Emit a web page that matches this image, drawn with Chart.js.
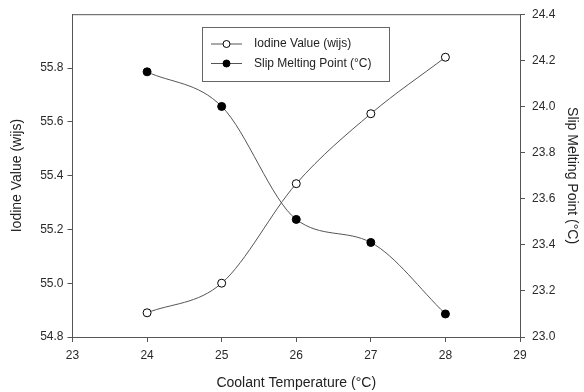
<!DOCTYPE html>
<html lang="en">
<head>
  <meta charset="UTF-8">
  <title>Coolant Temperature</title>
  <script src="https://cdn.jsdelivr.net/npm/chart.js"></script>
  <style>
    html, body { margin: 0; padding: 0; background: #fff; }
    #wrap { width: 584px; height: 392px; }
  </style>
</head>
<body>
  <div id="wrap"><canvas id="myChart" width="584" height="392"></canvas></div>
  <script>
    // data
    const temps = [24, 25, 26, 27, 28];
    const iodineValue = [54.89, 55.00, 55.37, 55.63, 55.84];
    const slipMeltingPoint = [24.15, 24.00, 23.51, 23.41, 23.10];
    const seriesNames = ['Iodine Value (wijs)', 'Slip Melting Point (\u00B0C)'];

    const FONT = 'Arial, "Liberation Sans", sans-serif';
    const axisColor = '#555';
    const textColor = '#2a2a2a';

    // draws the top frame line and the boxed legend inside the plot
    const framePlugin = {
      id: 'frame',
      afterDraw(chart) {
        const ctx = chart.ctx;
        const a = chart.chartArea;
        ctx.save();
        ctx.strokeStyle = axisColor;
        ctx.lineWidth = 1;
        ctx.beginPath();
        ctx.moveTo(a.left, a.top + 0.5);
        ctx.lineTo(a.right, a.top + 0.5);
        ctx.stroke();

        // legend box
        ctx.strokeStyle = '#666';
        ctx.strokeRect(202.5, 27.5, 187, 54);
        ctx.font = '12px ' + FONT;
        ctx.textBaseline = 'middle';
        chart.data.datasets.forEach((ds, i) => {
          const y = 44 + i * 19.5;
          ctx.strokeStyle = ds.borderColor;
          ctx.beginPath();
          ctx.moveTo(211, y);
          ctx.lineTo(242, y);
          ctx.stroke();
          ctx.beginPath();
          ctx.arc(226.5, y, 3.5, 0, Math.PI * 2);
          ctx.fillStyle = ds.pointBackgroundColor;
          ctx.fill();
          ctx.strokeStyle = ds.pointBorderColor;
          ctx.stroke();
          ctx.fillStyle = '#222';
          ctx.fillText(ds.label, 254, y);
        });
        ctx.restore();
      }
    };

    const ctx = document.getElementById('myChart').getContext('2d');
    new Chart(ctx, {
      type: 'line',
      data: {
        datasets: [{
          label: seriesNames[0],
          data: temps.map((t, i) => ({ x: t, y: iodineValue[i] })),
          yAxisID: 'y',
          borderColor: '#555',
          borderWidth: 1,
          pointBackgroundColor: '#fff',
          pointBorderColor: '#000',
          pointBorderWidth: 1,
          pointRadius: 4,
          cubicInterpolationMode: 'monotone'
        }, {
          label: seriesNames[1],
          data: temps.map((t, i) => ({ x: t, y: slipMeltingPoint[i] })),
          yAxisID: 'y2',
          borderColor: '#555',
          borderWidth: 1,
          pointBackgroundColor: '#000',
          pointBorderColor: '#000',
          pointBorderWidth: 1,
          pointRadius: 4,
          cubicInterpolationMode: 'monotone'
        }]
      },
      options: {
        responsive: false,
        animation: false,
        layout: { padding: { top: 14, left: 0, right: 0, bottom: 0 } },
        plugins: {
          legend: { display: false },
          tooltip: { enabled: false }
        },
        scales: {
          x: {
            type: 'linear',
            min: 23,
            max: 29,
            ticks: { stepSize: 1, color: textColor, padding: 6, font: { family: FONT, size: 12 } },
            grid: { drawOnChartArea: false, tickLength: 5, color: axisColor },
            border: { color: axisColor },
            title: {
              display: true,
              text: 'Coolant Temperature (\u00B0C)',
              color: '#222',
              font: { family: FONT, size: 14 },
              padding: { top: 0, bottom: 0.5 }
            },
            afterFit: s => { s.height = 55; }
          },
          y: {
            position: 'left',
            min: 54.8,
            max: 56.0,
            ticks: {
              stepSize: 0.2, color: textColor, padding: 4,
              font: { family: FONT, size: 12 },
              callback: v => v.toFixed(1)
            },
            afterBuildTicks: s => { s.ticks = s.ticks.filter(t => t.value < 55.9); },
            grid: { drawOnChartArea: false, tickLength: 5, color: axisColor },
            border: { color: axisColor },
            title: {
              display: true,
              text: 'Iodine Value (wijs)',
              color: '#222',
              font: { family: FONT, size: 14 },
              padding: { top: 8.5, bottom: 0 }
            },
            afterFit: s => { s.width = 72.5; }
          },
          y2: {
            position: 'right',
            min: 23.0,
            max: 24.4,
            ticks: {
              stepSize: 0.2, color: textColor, padding: 7,
              font: { family: FONT, size: 12 },
              callback: v => v.toFixed(1)
            },
            grid: { drawOnChartArea: false, tickLength: 5, color: axisColor },
            border: { color: axisColor },
            title: {
              display: true,
              text: 'Slip Melting Point (\u00B0C)',
              color: '#222',
              font: { family: FONT, size: 14 },
              padding: { top: 3.5, bottom: 0 }
            },
            afterFit: s => { s.width = 64; }
          }
        }
      },
      plugins: [framePlugin]
    });
  </script>
</body>
</html>
